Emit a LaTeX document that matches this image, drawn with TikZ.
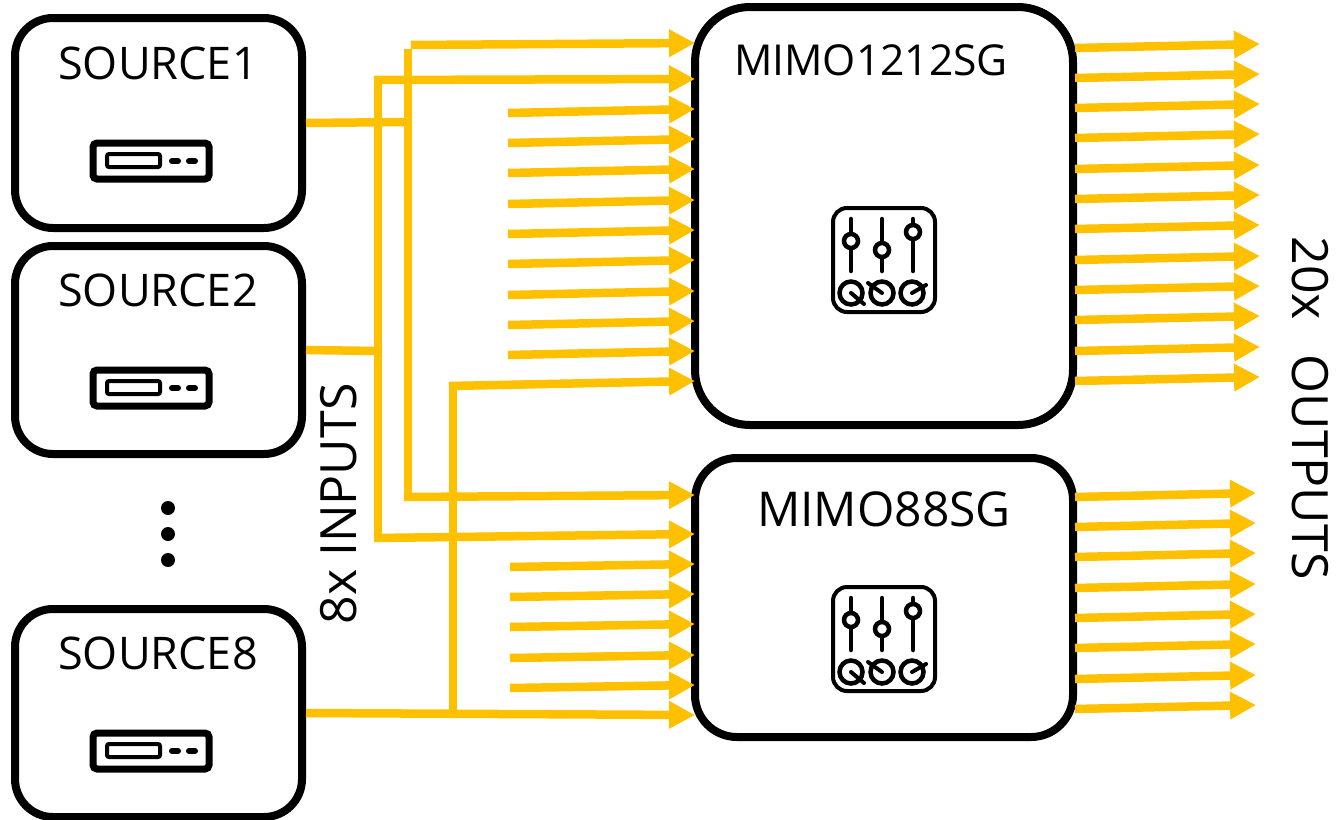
\documentclass[tikz,border=0pt]{standalone}
\usepackage{fontspec}
\setmainfont{Open Sans}
\usetikzlibrary{arrows.meta}
\definecolor{wire}{HTML}{FFC000}
\tikzset{
  blk/.style={draw=black,line width=8pt,fill=white,rounded corners=#1,outer sep=4pt,inner sep=0pt},
  blk/.default=38pt,
  lblS/.style={font=\fontsize{45}{48}\selectfont,inner sep=0pt,text=black},
  lblA/.style={font=\fontsize{42.6}{46}\selectfont,inner sep=0pt,text=black},
  lblB/.style={font=\fontsize{48}{50}\selectfont,inner sep=0pt,text=black},
  lblR/.style={font=\fontsize{50}{52}\selectfont,inner sep=0pt,text=black},
  wireline/.style={draw=wire,line width=8.5pt},
  wirearrow/.style={wireline,-{Triangle[length=26pt,width=26pt]},shorten >=0pt},
  dotmark/.style={circle,fill=black,minimum size=14pt,inner sep=0pt},
  device/.pic={
    \draw[black,line width=7pt,rounded corners=4pt] (-58,-18) rectangle (58,18);
    \draw[black,line width=4pt,rounded corners=2pt] (-44,-7) rectangle (9,6);
    \draw[black,line width=6pt,line cap=round] (21,0) -- (27,0) (38,0) -- (44,0);
  },
  mixer/.pic={
    \draw[black,line width=4pt,rounded corners=14pt] (-51,-52) rectangle (51,52);
    \draw[black,line width=4.5pt,line cap=round] (-33,-41) -- (-33,11) (-2,-41) -- (-2,11) (29,-41) -- (29,11);
    \draw[black,line width=4.5pt,fill=white] (-33,-19) circle (7pt) (-2,-10) circle (7pt) (29,-28) circle (7pt);
    \draw[black,line width=4.5pt] (-33,33) circle (11.5pt) (-2,33) circle (11.5pt) (28,33) circle (11.5pt);
    \draw[black,line width=4pt,line cap=round] (-33,33) -- (-20,44) (-2,33) -- (-16,23) (28,33) -- (42,25);
  }
}
\begin{document}
\begin{tikzpicture}[x=1pt,y=-1pt]
\useasboundingbox (0,0) rectangle (1340,819);
% blocks
\node[blk,minimum width=287pt,minimum height=210pt] (src1) at (158.5,123) {};
\node[blk,minimum width=287pt,minimum height=208pt] (src2) at (158.5,350) {};
\node[blk,minimum width=287pt,minimum height=208pt] (src8) at (158.5,713) {};
\node[blk=55pt,minimum width=378pt,minimum height=418pt] (mimoA) at (884,216) {};
\node[blk=42pt,minimum width=378pt,minimum height=279pt] (mimoB) at (884,597.5) {};
% labels
\node[lblS] (t1) at (158,63) {SOURCE1};
\node[lblS] (t2) at (158,290) {SOURCE2};
\node[lblS] (t8) at (158,653) {SOURCE8};
\node[lblA] (tA) at (871,60) {MIMO1212SG};
\node[lblB] (tB) at (884,509) {MIMO88SG};
\node[lblR,rotate=90] (tin) at (339,504) {8x INPUTS};
\node[lblR,rotate=-90] (tout) at (1310,408) {20x\hspace{0.7em}OUTPUTS};
% dots
\node[dotmark] (d1) at (168,508) {};
\node[dotmark] (d2) at (168,534) {};
\node[dotmark] (d3) at (168,560) {};
% icons
\pic at (151,161) {device};
\pic at (151,388) {device};
\pic at (151,751) {device};
\pic at (884,260) {mixer};
\pic at (884,639) {mixer};
% junctions
\coordinate (j1) at (408,122);
\coordinate (j1t) at (408,49);
\coordinate (j1b) at (408,497);
\coordinate (j2) at (378,351);
\coordinate (j2t) at (378,80);
\coordinate (j2b) at (378,538);
\coordinate (j8) at (453,712);
\coordinate (j8t) at (453,386);
\coordinate (a0) at (411,45);
\coordinate (a1) at (695,43);
\coordinate (a2) at (695,79);
\coordinate (a12) at (695,381);
\coordinate (b1) at (695,495);
\coordinate (b2) at (695,534);
\coordinate (b8) at (695,715);
% buses
\draw[wireline] (src1.east) -- (j1);
\draw[wireline] (src2.east) -- (j2);
\draw[wireline] (j1t) -- (j1b);
\draw[wireline] (j2t) -- (j2b);
\draw[wireline] (j8) -- (j8t);
\draw[wirearrow] (a0) -- (a1);
\draw[wirearrow] ([xshift=-4pt]j2t) -- (a2);
\draw[wirearrow] ([xshift=-4pt]j8t) -- (a12);
\draw[wirearrow] ([xshift=-4pt]j1b) -- (b1);
\draw[wirearrow] ([xshift=-4pt]j2b) -- (b2);
\draw[wirearrow] (src8.east) -- (b8);
% free inputs
\foreach \i/\y in {1/113,2/143,3/173,4/204,5/234,6/264,7/295,8/325,9/355}{
  \coordinate (ia\i) at (508,\y);
  \coordinate (ja\i) at (695,\y-4);
  \draw[wirearrow] (ia\i) -- (ja\i);
}
\foreach \i/\y in {1/567,2/597,3/627,4/658,5/688}{
  \coordinate (ib\i) at (510,\y);
  \coordinate (jb\i) at (695,\y-3);
  \draw[wirearrow] (ib\i) -- (jb\i);
}
% outputs
\foreach \i/\y in {1/48,2/78,3/108,4/138,5/169,6/199,7/229,8/260,9/290,10/320,11/351,12/381}{
  \coordinate (oa\i) at (1075,\y);
  \coordinate (pa\i) at (1260,\y-4);
  \draw[wirearrow] (oa\i) -- (pa\i);
}
\foreach \i/\y in {1/497,2/527,3/557,4/588,5/618,6/648,7/679,8/709}{
  \coordinate (ob\i) at (1075,\y);
  \coordinate (pb\i) at (1256,\y-4);
  \draw[wirearrow] (ob\i) -- (pb\i);
}
\end{tikzpicture}
\end{document}
